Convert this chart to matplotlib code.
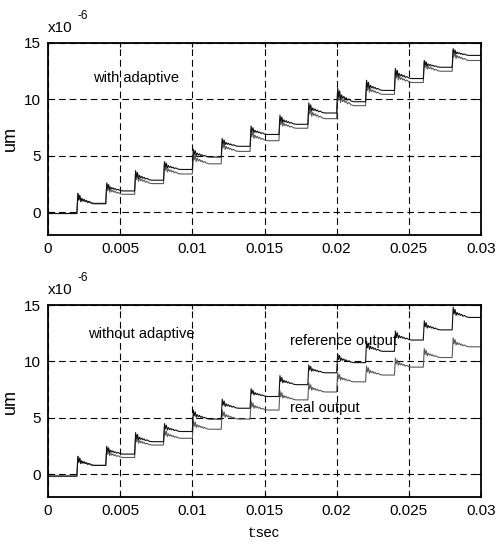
import matplotlib
matplotlib.use("Agg")
import matplotlib.pyplot as plt
import numpy as np

plt.rcParams['font.family'] = ['Liberation Sans', 'DejaVu Sans']
plt.rcParams['font.size'] = 10.5

# step instants (s); the curves hold a level between two steps
step_times = [0.002, 0.004, 0.006, 0.008, 0.010, 0.012, 0.014, 0.016,
              0.018, 0.020, 0.022, 0.024, 0.026, 0.028, 0.030]

# levels in units of 1e-6 (first value = level before the first step)
ref_top = [-0.1, 0.8, 1.9, 2.85, 3.8, 4.9, 5.85, 6.9, 7.8, 8.8, 9.8,
           10.8, 11.85, 12.85, 13.9, 14.9]
real_top = [-0.1, 0.75, 1.6, 2.55, 3.4, 4.3, 5.4, 6.35, 7.45, 8.3, 9.45,
            10.45, 11.5, 12.5, 13.45, 14.4]
ref_bot = [-0.15, 0.8, 1.8, 2.9, 3.8, 4.9, 5.86, 6.9, 7.95, 9.0, 9.9,
           10.9, 11.9, 12.8, 13.9, 14.9]
real_bot = [-0.15, 0.8, 1.5, 2.6, 3.2, 4.0, 4.9, 5.7, 6.6, 7.3, 8.2,
            8.8, 9.5, 10.35, 11.3, 12.3]

# overshoot height above the new level at each step
peak_ref_top = [0.9, 0.7, 0.85, 0.7, 0.7, 0.7, 0.75, 0.8, 0.9, 1.2, 0.9, 0.9, 0.6, 0.6, 0.6]
peak_real_top = [0.9, 0.9, 1.0, 0.9, 1.0, 0.9, 1.0, 0.9, 1.1, 1.4, 1.0, 1.1, 0.9, 0.9, 0.8]
peak_ref_bot = [0.8, 0.7, 0.8, 0.7, 0.8, 0.8, 0.7, 0.8, 0.7, 0.8, 0.9, 0.8, 0.8, 0.9, 0.7]
peak_real_bot = [0.8, 0.8, 0.8, 0.8, 0.8, 0.8, 0.8, 0.8, 0.8, 0.8, 0.8, 0.8, 0.8, 0.8, 0.7]

# ringing after each step: time after step (s) and fraction of overshoot
ring_dt = [0.00007, 0.00013, 0.0002, 0.00027, 0.00034, 0.00042, 0.0005,
           0.00058, 0.00066, 0.00075, 0.00085, 0.001, 0.0012]
ring_frac = [1.0, 0.35, 0.8, 0.2, 0.5, 0.25, 0.4, 0.2, 0.3, 0.12, 0.2, 0.05, 0.0]


def build(levels, peaks):
    t = [0.0]
    y = [levels[0]]
    for k, ts in enumerate(step_times):
        t.append(ts)
        y.append(levels[k])
        for dt, fr in zip(ring_dt, ring_frac):
            t.append(ts + dt)
            y.append(levels[k + 1] + fr * peaks[k])
    return np.array(t), np.array(y)


fig = plt.figure(figsize=(4.98, 5.49), dpi=100)
ax1 = fig.add_axes([0.0964, 0.572, 0.8695, 0.3497])
ax2 = fig.add_axes([0.0964, 0.0947, 0.8695, 0.3497])

for ax, ref, real, pr, pe in [(ax1, ref_top, real_top, peak_ref_top, peak_real_top),
                              (ax2, ref_bot, real_bot, peak_ref_bot, peak_real_bot)]:
    t, y = build(real, pe)
    ax.plot(t, y, color='#5a5a5a', linewidth=0.8)
    t, y = build(ref, pr)
    ax.plot(t, y, color='#111111', linewidth=0.8)
    ax.set_xlim(0, 0.03)
    ax.set_ylim(-2, 15)
    ax.set_xticks([0, 0.005, 0.01, 0.015, 0.02, 0.025, 0.03])
    ax.set_xticklabels(['0', '0.005', '0.01', '0.015', '0.02', '0.025', '0.03'])
    ax.set_yticks([0, 5, 10, 15])
    ax.grid(True, color='k', linestyle=(0, (6, 3.5)), linewidth=0.8)
    ax.tick_params(direction='in', length=3, top=True, right=True, pad=5,
                   labelsize=11)
    for s in ax.spines.values():
        s.set_linewidth(1.3)
    ax.set_ylabel('um', fontsize=13, labelpad=4)
    ax.text(0.0, 1.04, 'x10', transform=ax.transAxes, fontsize=11, va='bottom')
    ax.text(0.068, 1.11, '-6', transform=ax.transAxes, fontsize=8.5, va='bottom')

ax1.text(0.0031, 11.9, 'with adaptive', va='center')
ax2.text(0.0028, 12.4, 'without adaptive', va='center')
ax2.text(0.0168, 11.8, 'reference output', va='center')
ax2.text(0.0168, 5.9, 'real output', va='center')
ax2.set_xlabel('t:sec', labelpad=6)

fig.savefig('out.png', dpi=100)
